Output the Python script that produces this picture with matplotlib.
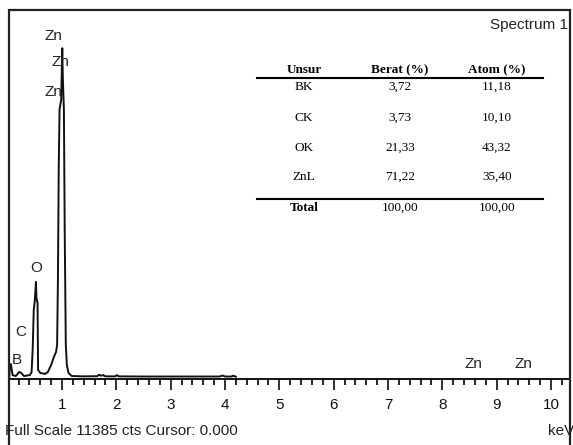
import numpy as np
import matplotlib
matplotlib.use("Agg")
import matplotlib.pyplot as plt
from matplotlib import font_manager
from matplotlib.patches import Rectangle
from matplotlib.ticker import MultipleLocator

# spectrum (keV, counts)
energy = [0.03, 0.04, 0.06, 0.09, 0.15, 0.21, 0.25, 0.30, 0.41, 0.44, 0.46, 0.48,
          0.50, 0.52, 0.53, 0.55, 0.56, 0.60, 0.69, 0.74, 0.80, 0.85, 0.89, 0.91,
          0.925, 0.94, 0.955, 0.985, 1.005, 1.015, 1.035, 1.05, 1.07, 1.09, 1.12,
          1.18, 1.40, 1.65, 1.68, 1.72, 1.76, 1.79, 1.83, 1.98, 2.01, 2.04, 2.5,
          3.0, 3.5, 3.9, 3.96, 4.0, 4.12, 4.15, 4.2]
counts = [0, 370, 400, 60, 30, 155, 125, 30, 60, 155, 840, 2080,
          2390, 2950, 2450, 2290, 220, 125, 95, 155, 370, 620, 775, 990,
          3000, 6500, 8300, 8600, 10200, 9300, 8300, 4500, 990, 370, 125,
          30, 20, 25, 70, 40, 60, 25, 20, 20, 60, 20, 15,
          15, 15, 15, 45, 15, 15, 40, 10]

full_scale = 11385

# peak labels (text, keV, counts)
peak_labels = [("Zn", 0.85, 10580), ("Zn", 0.965, 9770), ("Zn", 0.835, 8840),
               ("O", 0.52, 3380), ("C", 0.245, 1400), ("B", 0.17, 530),
               ("Zn", 8.58, 400), ("Zn", 9.50, 400)]

# composition table
unsur = ["BK", "CK", "OK", "ZnL"]
berat = ["3,72", "3,73", "21,33", "71,22"]
atom = ["11,18", "10,10", "43,32", "35,40"]
total = ["Total", "100,00", "100,00"]

names = {f.name for f in font_manager.fontManager.ttflist}
if "Liberation Sans Narrow" in names:
    sans = ["Liberation Sans Narrow", "DejaVu Sans"]
    fs = 12
else:
    sans = ["Liberation Sans", "DejaVu Sans"]
    fs = 11
serif = ["Liberation Serif", "DejaVu Serif"]

W, H = 573, 445
fig = plt.figure(figsize=(W / 100, H / 100), dpi=100)


def fx(px):
    return px / W


def fy(py):
    return 1 - py / H


ax = fig.add_axes([fx(9), fy(379), fx(570) - fx(9), fy(10) - fy(379)])
ax.plot(energy, counts, color="#111111", lw=1.4)
ax.set_xlim(0.0245, 10.35)
ax.set_ylim(-62, full_scale)

for s in ["left", "right", "top"]:
    ax.spines[s].set_visible(False)
ax.spines["bottom"].set_linewidth(1.3)
ax.set_yticks([])
ax.xaxis.set_major_locator(MultipleLocator(1))
ax.xaxis.set_minor_locator(MultipleLocator(0.2))
ax.tick_params(axis="x", which="major", direction="out", length=8, width=1.2,
               pad=6, labelsize=fs, colors="#111111")
ax.tick_params(axis="x", which="minor", direction="out", length=4, width=1.2)
ax.set_xticks(range(1, 11))
for lab in ax.get_xticklabels():
    lab.set_family(sans)

for txt, xe, yc in peak_labels:
    ax.text(xe, yc, txt, ha="center", va="center", fontsize=fs,
            family=sans, color="#222222")

# outer frame
fig.add_artist(Rectangle((fx(9), -0.1), fx(570) - fx(9), fy(10) + 0.1,
                         transform=fig.transFigure, fill=False,
                         edgecolor="#222222", lw=1.6, clip_on=False))

fig.text(fx(568), fy(25), "Spectrum 1", ha="right", va="center",
         fontsize=fs, family=sans, color="#222222")
fig.text(fx(5), fy(431), "Full Scale 11385 cts Cursor: 0.000", ha="left",
         va="center", fontsize=fs, family=sans, color="#222222")
fig.text(fx(574), fy(431), "keV", ha="right", va="center",
         fontsize=fs, family=sans, color="#222222")

# table
cols = [304, 400, 497]
tfs = 9.5
for c, h in zip(cols, ["Unsur", "Berat (%)", "Atom (%)"]):
    fig.text(fx(c), fy(70), h, ha="center", va="center", fontsize=tfs,
             family=serif, fontweight="bold")
fig.add_artist(plt.Line2D([fx(257), fx(543)], [fy(78), fy(78)],
                          transform=fig.transFigure, color="black", lw=1.5))
row_y = [87, 118, 148, 177]
for i, ry in enumerate(row_y):
    for c, v in zip(cols, [unsur[i], berat[i], atom[i]]):
        fig.text(fx(c), fy(ry), v, ha="center", va="center", fontsize=tfs,
                 family=serif)
fig.add_artist(plt.Line2D([fx(257), fx(543)], [fy(199), fy(199)],
                          transform=fig.transFigure, color="black", lw=1.5))
for j, (c, v) in enumerate(zip(cols, total)):
    fig.text(fx(c), fy(208), v, ha="center", va="center", fontsize=tfs,
             family=serif, fontweight="bold" if j == 0 else "normal")

fig.savefig("out.png", dpi=100)
